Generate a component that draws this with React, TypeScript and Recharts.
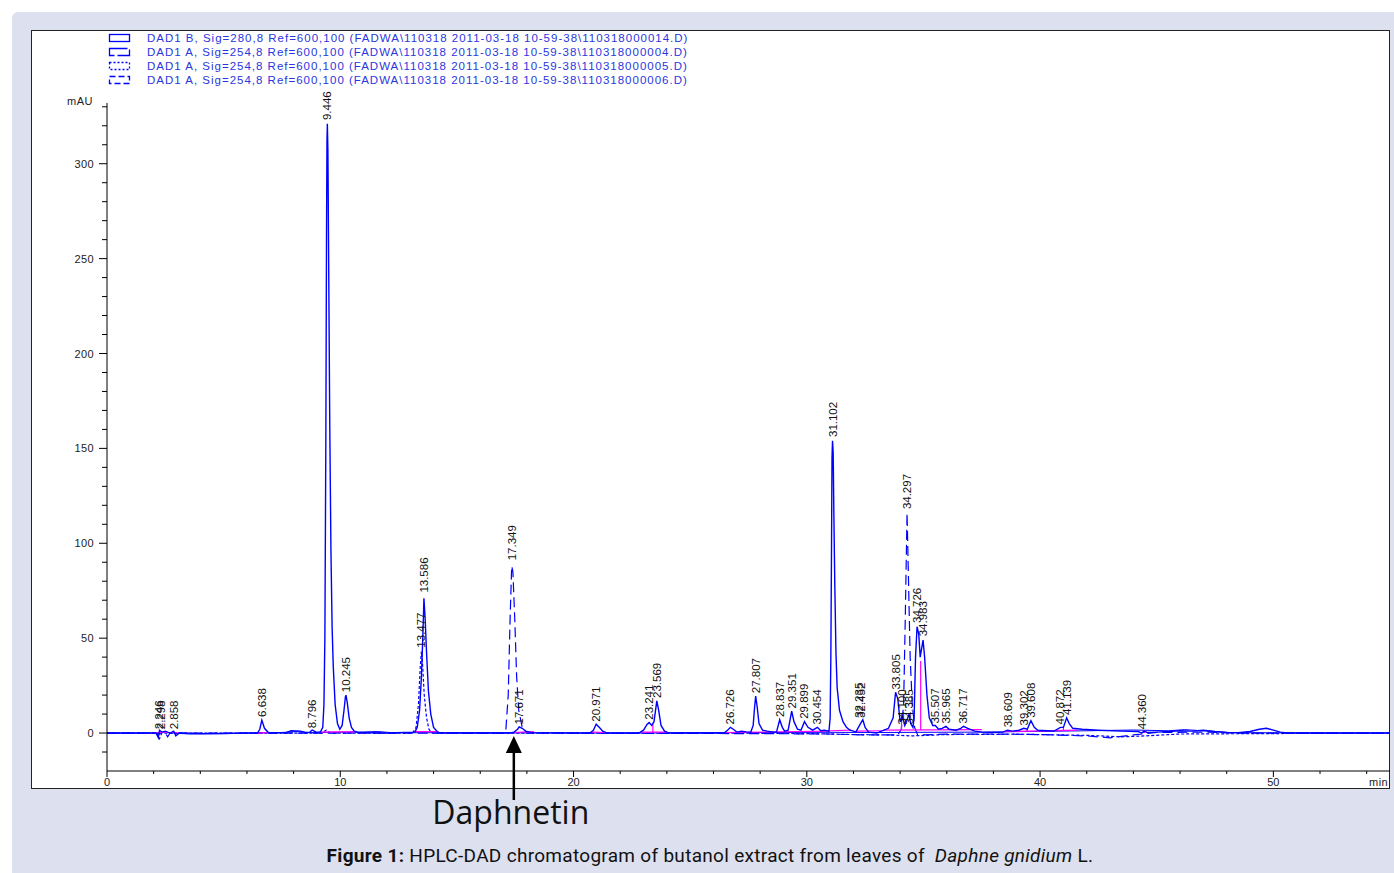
import React from 'react';
import { ComposedChart, Line, XAxis, YAxis, ReferenceDot } from 'recharts';

const legendLabels = [
  'DAD1 B, Sig=280,8 Ref=600,100 (FADWA\\110318 2011-03-18 10-59-38\\110318000014.D)',
  'DAD1 A, Sig=254,8 Ref=600,100 (FADWA\\110318 2011-03-18 10-59-38\\110318000004.D)',
  'DAD1 A, Sig=254,8 Ref=600,100 (FADWA\\110318 2011-03-18 10-59-38\\110318000005.D)',
  'DAD1 A, Sig=254,8 Ref=600,100 (FADWA\\110318 2011-03-18 10-59-38\\110318000006.D)',
];

const xTicks = [0, 2, 4, 6, 8, 10, 12, 14, 16, 18, 20, 22, 24, 26, 28, 30, 32, 34, 36, 38, 40, 42, 44, 46, 48, 50, 52, 54];
const xLabelTicks = [0, 10, 20, 30, 40, 50];
const yTicks = [-10, 0, 10, 20, 30, 40, 50, 60, 70, 80, 90, 100, 110, 120, 130, 140, 150, 160, 170, 180, 190, 200, 210, 220, 230, 240, 250, 260, 270, 280, 290, 300, 310, 320, 330];
const yLabelTicks = [0, 50, 100, 150, 200, 250, 300];

// DAD1 B 280 nm (near-flat trace)
const traceB: [number, number][] = [
  [0, 0], [2.1, 0], [2.2, -1.5], [2.3, 0.5], [2.9, 0], [3.5, -0.5], [5.0, -0.4], [6.0, 0], [7.5, 0.3], [8.2, 0.8], [8.6, 0.2],
  [11, 0.6], [11.6, 0.8], [12.2, 0.2], [22.5, 0], [26.0, 0.2], [30.8, 0.4], [33.0, 0.3], [37.5, 0.5], [42.0, 1.2],
  [44.0, 1.6], [45.5, 1.2], [46.2, 1.8], [47.2, 1.0], [48.2, 0.2], [55, 0],
];

// DAD1 A 254 nm, ...004.D (main solid trace)
const traceMain: [number, number][] = [
  [0, 0], [2.1, 0], [2.2, -2.5], [2.25, 1.5], [2.35, 0.5], [2.5, 1], [2.7, 0], [2.86, 1], [2.95, -1.5], [3.1, 0],
  [4.0, -0.3], [5.0, -0.2], [6.45, 0], [6.55, 2], [6.638, 6.8], [6.75, 2.5], [6.9, 0.5], [7.0, 0],
  [7.7, 0.3], [7.9, 1.2], [8.3, 1.0], [8.5, 0.3], [8.7, 0.5], [8.796, 1.6], [8.95, 0.6],
  [9.15, 0.5], [9.25, 3], [9.3, 15], [9.34, 50], [9.38, 150], [9.41, 262], [9.43, 312], [9.446, 321], [9.47, 307],
  [9.5, 252], [9.55, 162], [9.6, 96], [9.65, 56], [9.7, 35], [9.78, 15], [9.88, 5], [9.98, 2],
  [10.08, 4], [10.16, 12], [10.22, 19], [10.245, 20], [10.3, 16], [10.38, 8], [10.48, 3], [10.6, 1], [10.75, 0.3],
  [11.0, 0.2], [12.0, 0], [13.2, 0.5], [13.3, 3], [13.4, 12], [13.48, 30], [13.55, 55], [13.586, 71], [13.64, 60],
  [13.7, 42], [13.78, 22], [13.88, 10], [14.0, 3], [14.15, 0.8], [14.3, 0],
  [17.3, 0], [17.45, 0.5], [17.6, 2], [17.671, 3.2], [17.8, 2.5], [17.95, 1], [18.2, 0.2],
  [20.7, 0], [20.85, 1.5], [20.971, 4.6], [21.1, 3], [21.25, 1], [21.45, 0],
  [22.8, 0], [23.0, 1.5], [23.15, 4.5], [23.241, 5.5], [23.35, 4], [23.45, 6], [23.569, 17], [23.65, 12], [23.75, 4],
  [23.9, 1], [24.1, 0], [26.45, 0], [26.6, 1.5], [26.726, 3], [26.85, 2], [27.0, 0.5], [27.2, 1], [27.4, 0.6],
  [27.6, 0.5], [27.7, 4], [27.75, 12], [27.807, 19.5], [27.87, 14], [27.95, 5], [28.1, 1.5], [28.3, 1], [28.6, 0.5],
  [28.7, 0.5], [28.837, 7], [28.95, 3], [29.05, 1], [29.2, 1.5], [29.351, 11.5], [29.45, 6], [29.6, 2],
  [29.75, 1.5], [29.899, 6], [30.05, 3], [30.25, 1.5], [30.454, 3], [30.6, 1.2], [30.75, 1.5],
  [30.95, 1], [31.0, 8], [31.03, 40], [31.06, 100], [31.08, 145], [31.102, 154], [31.13, 148], [31.16, 115],
  [31.2, 78], [31.25, 42], [31.3, 24], [31.4, 12], [31.55, 6], [31.7, 3], [31.85, 1.5], [32.0, 1],
  [32.1, 0.5], [32.3, 5], [32.4, 7], [32.5, 3], [32.65, 0.5], [33.0, 0], [33.2, 1], [33.5, 2.5], [33.7, 8],
  [33.805, 21.5], [33.9, 18], [34.0, 6], [34.1, 9], [34.2, 4], [34.3, 7], [34.385, 10], [34.45, 5], [34.55, 3],
  [34.6, 8], [34.66, 40], [34.726, 56], [34.8, 52], [34.86, 40], [34.983, 49], [35.05, 40], [35.15, 20], [35.25, 8],
  [35.4, 4], [35.507, 4], [35.65, 2], [35.8, 2.5], [35.965, 3.5], [36.1, 2], [36.4, 1.5], [36.6, 2.5], [36.717, 3.5],
  [36.9, 2.5], [37.2, 1], [37.5, 0.5], [38.0, 0.3], [38.4, 0.5], [38.609, 1.5], [38.8, 1], [39.1, 1.5], [39.302, 2.5],
  [39.45, 2], [39.608, 6.5], [39.75, 3], [39.9, 1.5], [40.3, 1.2], [40.6, 1], [40.872, 3], [41.0, 3], [41.139, 8],
  [41.25, 5], [41.4, 2.5], [41.8, 2], [42.5, 1.5], [43.5, 1], [44.2, 0.8], [44.36, 0], [44.45, 1], [44.6, 0.3],
  [45.0, 0.5], [45.5, 0.8], [46.0, 1.2], [46.5, 1], [47.0, 1.5], [47.5, 0.8], [48.0, 0.3], [48.5, 0.2], [49.0, 0.8],
  [49.4, 2], [49.7, 2.5], [50.0, 1.5], [50.3, 0.5], [50.6, 0], [55, 0],
];

// DAD1 A 254 nm, ...005.D (dotted)
const traceDotted: [number, number][] = [
  [0, 0], [2.15, 0], [2.25, -3], [2.35, 0], [9.2, 0], [9.4, 1.5], [9.6, 0], [13.1, 0], [13.25, 3], [13.35, 15],
  [13.43, 35], [13.477, 43], [13.52, 38], [13.6, 20], [13.7, 8], [13.8, 2], [13.95, 0], [26.0, 0], [30.0, -0.3],
  [32.0, -0.8], [33.5, -1], [34.5, -1.5], [36.0, -0.8], [39.0, -0.6], [42.0, -1.2], [43.5, -2], [44.5, -1.5], [46.0, -0.5], [55, 0],
];

// DAD1 A 254 nm, ...006.D (dashed)
const traceDashed: [number, number][] = [
  [0, 0], [2.5, 0], [2.6, -2], [2.7, 0], [17.0, 0], [17.1, 2], [17.2, 20], [17.28, 60], [17.349, 88], [17.4, 85],
  [17.48, 60], [17.56, 30], [17.65, 12], [17.8, 3], [18.0, 0], [28.0, -0.3], [31.0, -0.5], [32.5, -1], [33.9, -1],
  [34.05, 2], [34.15, 15], [34.22, 60], [34.297, 116], [34.36, 80], [34.43, 40], [34.52, 15], [34.62, 3], [34.75, -1],
  [36.0, -0.6], [38.0, -0.5], [40.0, -0.8], [42.0, -1.5], [43.0, -2.5], [44.0, -1], [45.0, 0.3], [47.0, 0.5], [48.5, 0], [55, 0],
];

// integration baselines (magenta), null separates segments
const integrationBaselines: [number, number | null][] = [
  [2.1, 0.3], [3.0, 0.3], [3.0, null],
  [6.45, 0], [7.0, 0.3], [7.0, null],
  [9.1, 0.5], [10.7, 0.8], [10.7, null],
  [13.2, 0.8], [14.2, 0.8], [14.2, null],
  [17.4, 0.3], [18.3, 0.8], [18.3, null],
  [20.75, 0.5], [21.45, 0.3], [21.45, null],
  [22.85, 0.5], [24.0, 0.5], [24.0, null], [23.4, 0.5], [23.4, 5], [23.4, null],
  [26.5, 0.3], [31.0, 1], [31.0, null],
  [31.0, 1.2], [31.9, 1.5], [31.9, null],
  [32.1, 1], [33.2, 1.2], [33.2, null],
  [33.3, 1.5], [37.5, 1.8], [37.5, null],
  [34.06, 1.5], [34.06, 10], [34.06, null],
  [34.88, 1.5], [34.88, 38], [34.88, null],
  [38.4, 0.8], [41.6, 1.5], [41.6, null],
  [39.45, 1], [39.45, 2.5], [39.45, null],
  [41.0, 1.2], [41.0, 3], [41.0, null],
  [44.3, 0.3], [44.5, 0.3],
];

const peakLabels: [number, number, string][] = [
  [2.22, 2, '2.246'], [2.3, 2, '2.298'], [2.86, 2, '2.858'], [6.638, 8.5, '6.638'], [8.796, 2.5, '8.796'],
  [9.446, 323, '9.446'], [10.245, 21.5, '10.245'], [13.477, 45, '13.477'], [13.586, 74, '13.586'],
  [17.349, 91, '17.349'], [17.671, 4.5, '17.671'], [20.971, 6, '20.971'], [23.241, 7, '23.241'],
  [23.569, 18.5, '23.569'], [26.726, 4.5, '26.726'], [27.807, 21, '27.807'], [28.837, 8.5, '28.837'],
  [29.351, 13, '29.351'], [29.899, 7.5, '29.899'], [30.454, 4.5, '30.454'], [31.102, 156, '31.102'],
  [32.235, 8, '32.235'], [32.32, 8, '32.452'], [33.805, 23, '33.805'], [34.1, 4.5, '34.100'],
  [34.297, 118, '34.297'], [34.385, 4.5, '34.385'], [34.726, 58, '34.726'], [34.983, 51, '34.983'],
  [35.507, 5, '35.507'], [35.965, 5, '35.965'], [36.717, 5, '36.717'], [38.609, 3, '38.609'],
  [39.302, 4, '39.302'], [39.608, 8, '39.608'], [40.872, 4.5, '40.872'], [41.139, 9.5, '41.139'], [44.36, 2, '44.360'],
];

const daphnetinTime = 17.44;

const rows = (pts: [number, number | null][]) => pts.map(([t, v]) => ({ t, v }));

const BLUE = '#0000ff';
const AXIS_FONT = "'Liberation Sans', Arial, sans-serif";

const XTick = (props: any) => {
  const { x, y, payload } = props;
  const major = xLabelTicks.includes(payload.value);
  return (
    <g>
      <line x1={x} x2={x} y1={y} y2={y + (major ? 6 : 3)} stroke="#000" strokeWidth={1} />
      {major && (
        <text x={x} y={y + 15} textAnchor="middle" fontSize={11} fontFamily={AXIS_FONT} fill="#222">
          {payload.value}
        </text>
      )}
    </g>
  );
};

const YTick = (props: any) => {
  const { x, y, payload } = props;
  const major = yLabelTicks.includes(payload.value);
  return (
    <g>
      <line x1={x} x2={x - (major ? 8 : 5)} y1={y} y2={y} stroke="#000" strokeWidth={1} />
      {major && (
        <text x={x - 13} y={y + 4} textAnchor="end" fontSize={11} fontFamily={AXIS_FONT} fill="#222" letterSpacing={0.4}>
          {payload.value}
        </text>
      )}
    </g>
  );
};

const LegendIcon = ({ idx }: { idx: number }) => {
  const dash = ['', '18 3', '2 2', '6 3'][idx];
  return (
    <svg width={24} height={10} style={{ display: 'block' }}>
      <rect x={1.5} y={1.5} width={20} height={7} fill="none" stroke={BLUE} strokeWidth={1.3} strokeDasharray={dash || undefined} />
    </svg>
  );
};

export default function App() {
  return (
    <div style={{ position: 'absolute', left: 0, top: 0, width: 1394, height: 873, background: '#fff', overflow: 'hidden' }}>
      <div style={{ position: 'absolute', left: 12, top: 12, width: 1382, height: 861, background: '#dde0ee', borderTopLeftRadius: 6 }} />
      <div style={{ position: 'absolute', left: 31, top: 30, width: 1357, height: 757, background: '#fff', border: '1px solid #222' }} />

      {legendLabels.map((lab, i) => (
        <div key={lab} style={{ position: 'absolute', left: 108, top: 31 + i * 14.3, height: 13, display: 'flex', alignItems: 'center' }}>
          <LegendIcon idx={i} />
          <span style={{ marginLeft: 15, fontFamily: AXIS_FONT, fontSize: 11.5, color: '#2a36e0', letterSpacing: 1.0, whiteSpace: 'pre' }}>{lab}</span>
        </div>
      ))}

      <div style={{ position: 'absolute', left: 67, top: 95, fontFamily: AXIS_FONT, fontSize: 11, color: '#222', letterSpacing: 0.5 }}>mAU</div>
      <div style={{ position: 'absolute', left: 1369, top: 776, fontFamily: AXIS_FONT, fontSize: 11, color: '#222', letterSpacing: 0.5 }}>min</div>

      <div style={{ position: 'absolute', left: 0, top: 0 }}>
        <ComposedChart width={1394} height={873} margin={{ top: 103, right: 4, bottom: 72, left: 47 }}>
          <XAxis
            type="number"
            dataKey="t"
            domain={[0, 55]}
            ticks={xTicks}
            tick={<XTick />}
            tickLine={false}
            tickSize={0}
            tickMargin={0}
            axisLine={{ stroke: '#000' }}
            height={30}
            allowDataOverflow
            interval={0}
          />
          <YAxis
            type="number"
            dataKey="v"
            domain={[-20, 332]}
            ticks={yTicks}
            tick={<YTick />}
            tickLine={false}
            tickSize={0}
            tickMargin={0}
            axisLine={{ stroke: '#000' }}
            width={60}
            allowDataOverflow
            interval={0}
          />
          <Line data={rows(traceB)} dataKey="v" type="linear" stroke={BLUE} strokeWidth={1} dot={false} isAnimationActive={false} />
          <Line data={rows(traceDotted)} dataKey="v" type="linear" stroke={BLUE} strokeWidth={1.2} strokeDasharray="3 2" dot={false} isAnimationActive={false} />
          <Line data={rows(traceDashed)} dataKey="v" type="linear" stroke={BLUE} strokeWidth={1.2} strokeDasharray="10 5" dot={false} isAnimationActive={false} />
          <Line data={rows(integrationBaselines)} dataKey="v" type="linear" stroke="#ff00ff" strokeWidth={1.2} dot={false} connectNulls={false} isAnimationActive={false} />
          <Line data={rows(traceMain)} dataKey="v" type="linear" stroke={BLUE} strokeWidth={1.4} dot={false} isAnimationActive={false} />
          {peakLabels.map(([t, v, lab]) => (
            <ReferenceDot
              key={lab}
              x={t}
              y={v}
              ifOverflow="visible"
              shape={(p: any) => (
                <text
                  x={p.cx + 4}
                  y={p.cy}
                  transform={`rotate(-90 ${p.cx + 4} ${p.cy})`}
                  fontSize={11.5}
                  fontFamily={AXIS_FONT}
                  fill="#111"
                  textAnchor="start"
                >
                  {lab}
                </text>
              )}
            />
          ))}
          <ReferenceDot
            x={daphnetinTime}
            y={-20}
            ifOverflow="visible"
            shape={(p: any) => (
              <g>
                <polygon points={`${p.cx},${p.cy - 35} ${p.cx - 8},${p.cy - 18} ${p.cx + 8},${p.cy - 18}`} fill="#000" />
                <line x1={p.cx} x2={p.cx} y1={p.cy - 19} y2={p.cy + 29} stroke="#000" strokeWidth={2.5} />
                <text x={p.cx - 3} y={p.cy + 53} textAnchor="middle" fontSize={32} fontFamily="'Open Sans', 'Noto Sans', sans-serif" fill="#111">
                  Daphnetin
                </text>
              </g>
            )}
          />
        </ComposedChart>
      </div>

      <div style={{ position: 'absolute', left: 0, width: 1420, top: 844, textAlign: 'center', fontFamily: "Roboto, 'Open Sans', sans-serif", fontSize: 19, color: '#111', whiteSpace: 'pre', letterSpacing: 0.3 }}>
        <b>Figure 1:</b> HPLC-DAD chromatogram of butanol extract from leaves of  <i>Daphne gnidium</i> L.
      </div>
    </div>
  );
}
